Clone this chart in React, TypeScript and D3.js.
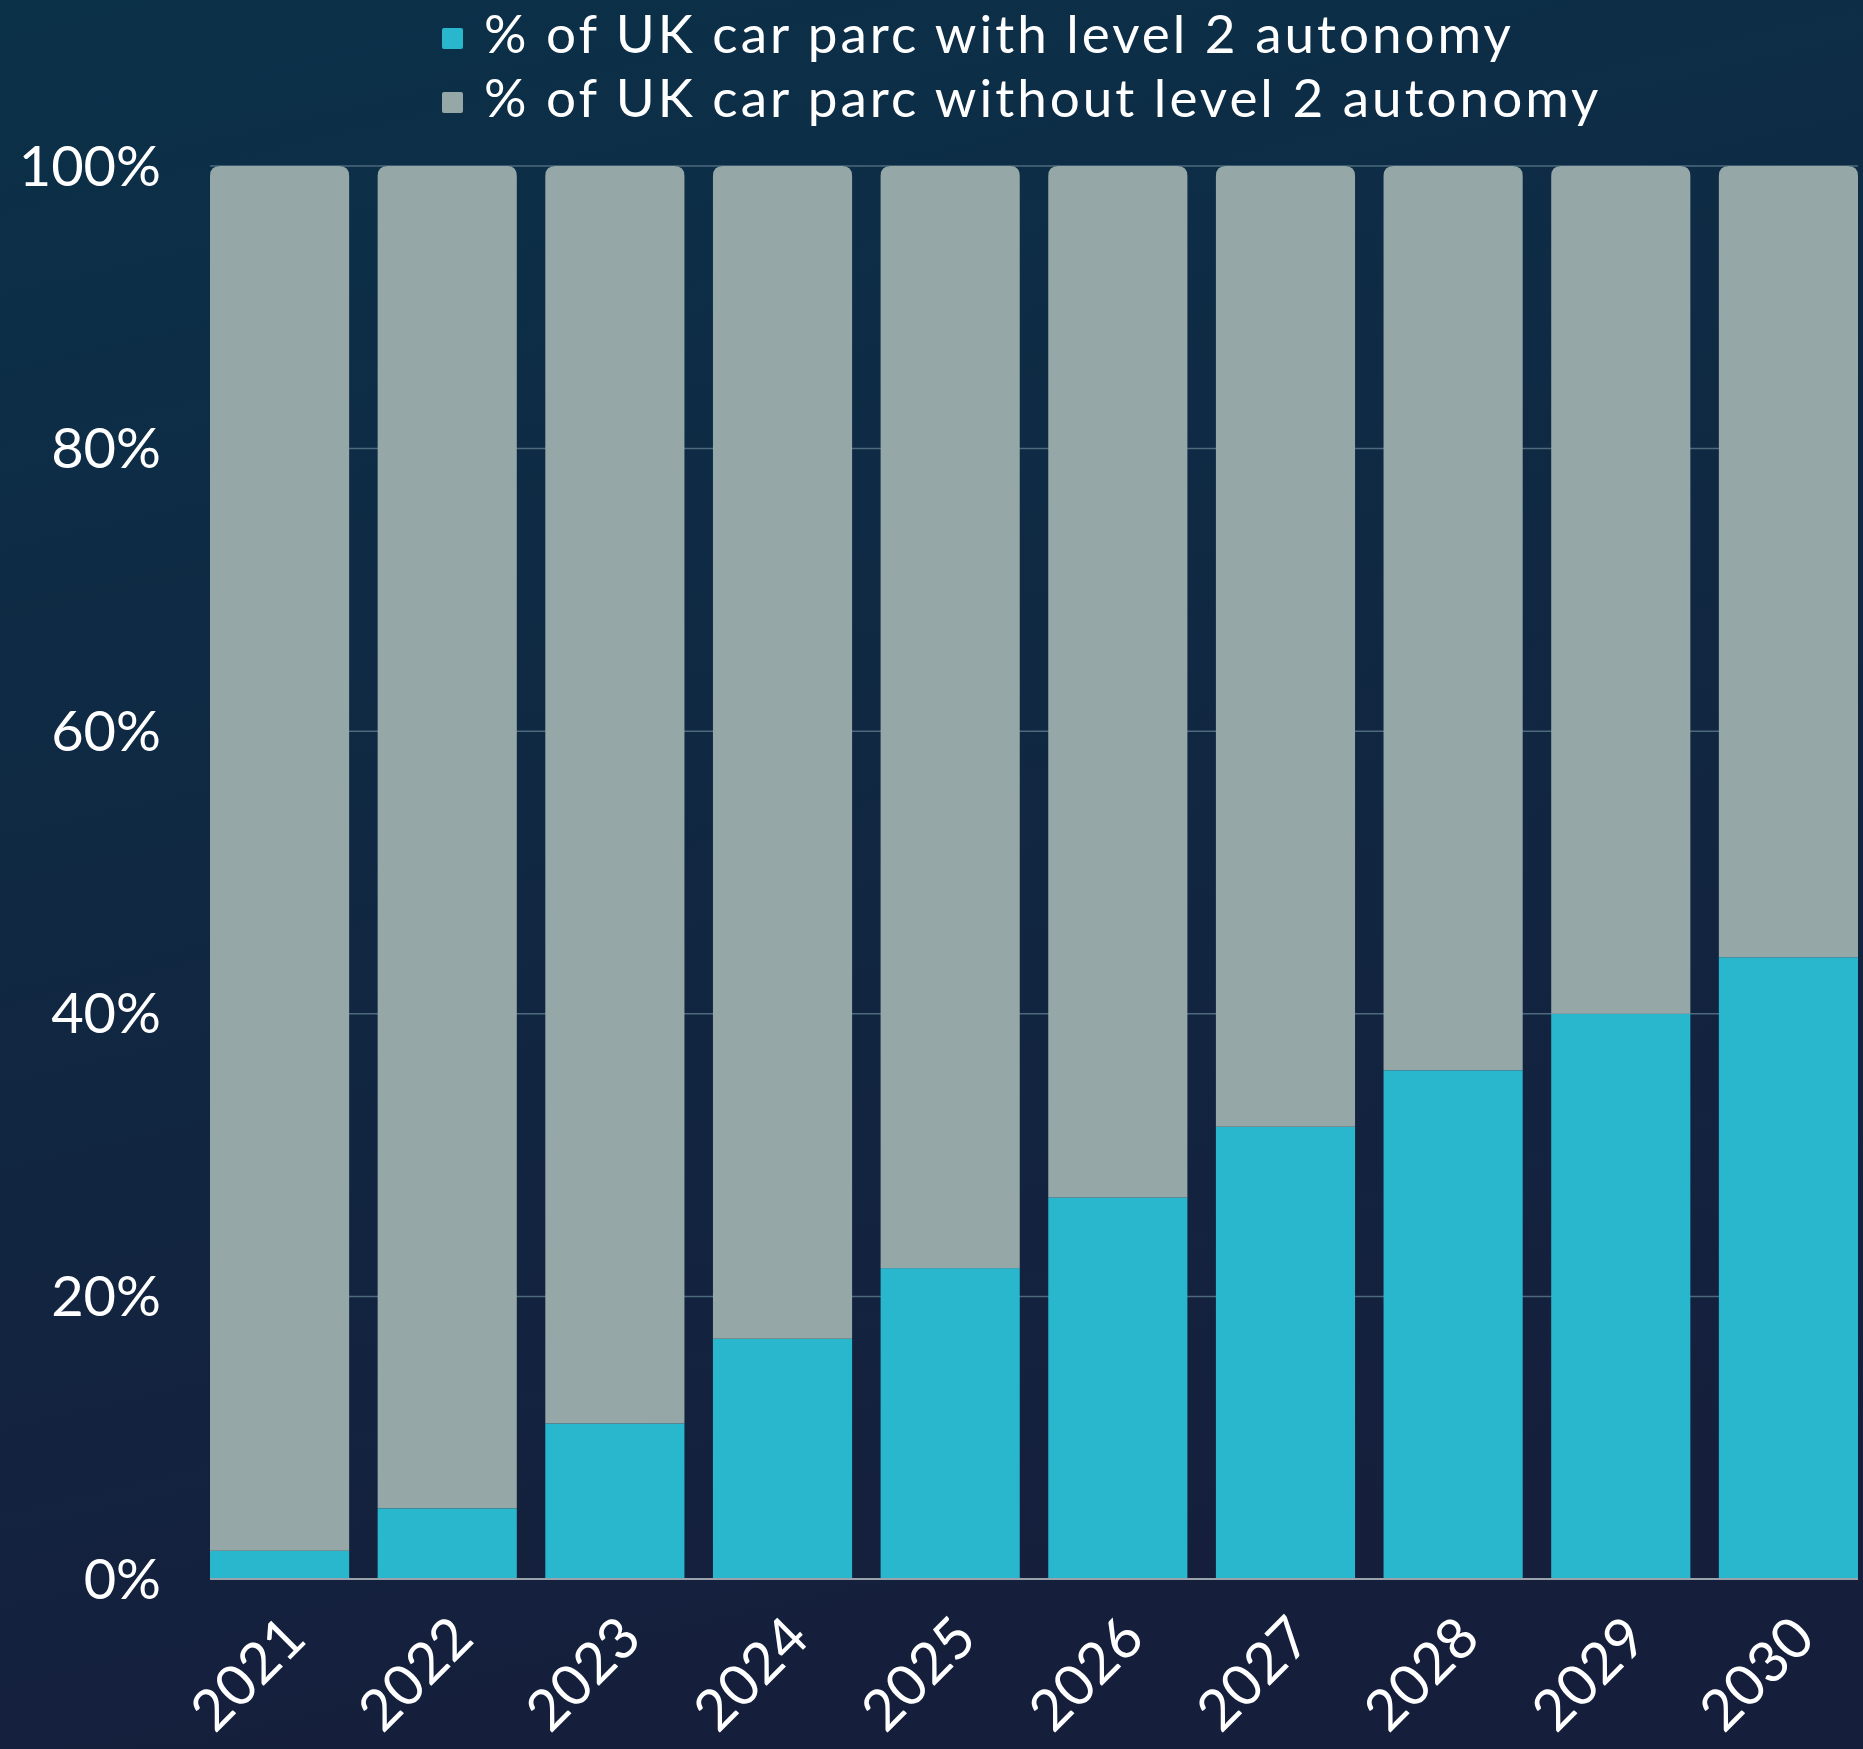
import React from 'react';
import * as d3 from 'd3';

const years = ['2021', '2022', '2023', '2024', '2025', '2026', '2027', '2028', '2029', '2030'];
const withL2 = [2, 5, 11, 17, 22, 27, 32, 36, 40, 44];
const withoutL2 = [98, 95, 89, 83, 78, 73, 68, 64, 60, 56];
const yTicks = [0, 20, 40, 60, 80, 100];
const seriesNames = [
  '% of UK car parc with level 2 autonomy',
  '% of UK car parc without level 2 autonomy',
];
const colors = ['#29b7cd', '#95a8a7'];

const W = 1863;
const H = 1749;
const font = 'Lato, "Open Sans", sans-serif';

// rect with only the top corners rounded
function topRounded(x: number, y: number, w: number, h: number, r: number) {
  const rr = Math.min(r, h, w / 2);
  return `M${x},${y + h}V${y + rr}Q${x},${y} ${x + rr},${y}H${x + w - rr}Q${x + w},${y} ${x + w},${y + rr}V${y + h}Z`;
}

export default function App() {
  const x = d3.scaleBand<string>().domain(years).range([210, 1858]).paddingInner(0.17).paddingOuter(0);
  const y = d3.scaleLinear().domain([0, 100]).range([1579, 166]);
  const bw = x.bandwidth();

  return (
    <div style={{ position: 'absolute', left: 0, top: 0 }}>
      <svg width={W} height={H} style={{ display: 'block' }} fontFamily={font}>
        <defs>
          <linearGradient id="bg" x1="0" y1="0" x2="0.25" y2="1">
            <stop offset="0" stopColor="#0b3149" />
            <stop offset="1" stopColor="#151f3c" />
          </linearGradient>
        </defs>
        <rect width={W} height={H} fill="url(#bg)" />

        {/* legend */}
        {seriesNames.map((s, i) => (
          <g key={s} transform={`translate(442, ${53 + i * 64})`}>
            <rect x={0} y={-25} width={21} height={21} rx={2} fill={colors[i]} />
            <text x={42} y={0} fill="#fff" fontSize={53} letterSpacing={3}>{s}</text>
          </g>
        ))}

        {/* gridlines */}
        {yTicks.filter(t => t > 0).map(t => (
          <line key={t} x1={210} x2={1858} y1={y(t)} y2={y(t)} stroke="#4d6a7c" strokeWidth={1.5} />
        ))}

        {/* bars */}
        {years.map((yr, i) => {
          const bx = x(yr)!;
          const v1 = withL2[i];
          const v2 = withoutL2[i];
          return (
            <g key={yr}>
              <rect x={bx} y={y(v1)} width={bw} height={y(0) - y(v1)} fill={colors[0]} />
              <path d={topRounded(bx, y(v1 + v2), bw, y(v1) - y(v1 + v2), 10)} fill={colors[1]} />
            </g>
          );
        })}

        {/* baseline */}
        <line x1={210} x2={1858} y1={y(0)} y2={y(0)} stroke="#9aa3ab" strokeWidth={2} />

        {/* y axis labels */}
        {yTicks.map(t => (
          <text key={t} x={161} y={y(t)} dy="0.35em" textAnchor="end" fill="#fff" fontSize={56}>
            {t}%
          </text>
        ))}

        {/* x axis labels */}
        {years.map(yr => {
          const cx = x(yr)! + bw / 2;
          return (
            <text
              key={yr}
              transform={`translate(${cx + 29}, 1641) rotate(-45)`}
              textAnchor="end"
              fill="#fff"
              fontSize={57}
            >
              {yr}
            </text>
          );
        })}
      </svg>
    </div>
  );
}
